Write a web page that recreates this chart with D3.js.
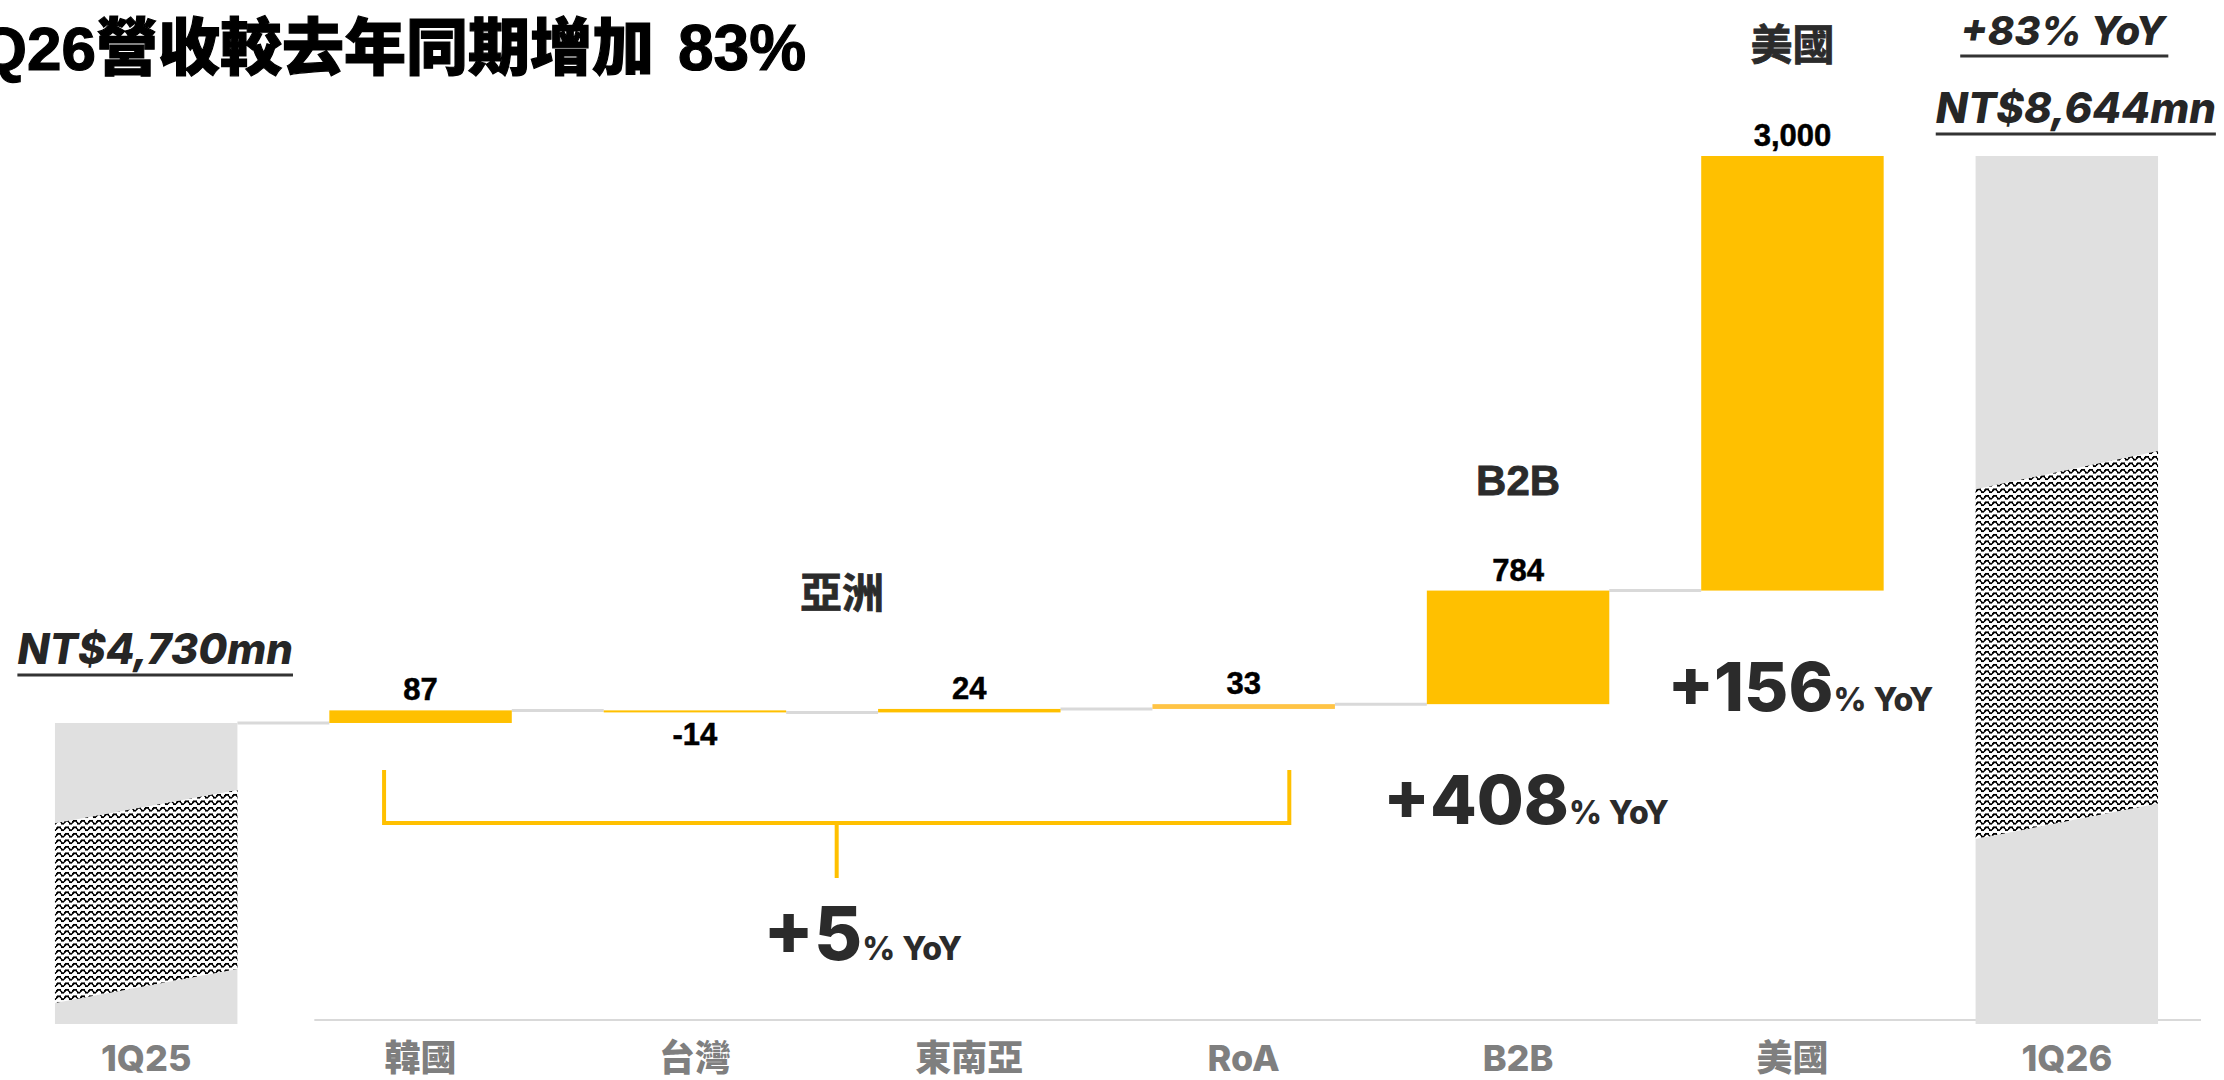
<!DOCTYPE html>
<html>
<head>
<meta charset="utf-8">
<script src="https://cdn.jsdelivr.net/npm/d3@7.9.0/dist/d3.min.js"></script>
<style>
  body { margin: 0; background: #fff; }
  svg { display: block; }
  .geo { font-family: Inter, "Noto Sans CJK TC", sans-serif; }
  .arial { font-family: "Liberation Sans", "Noto Sans CJK TC", sans-serif; }
</style>
</head>
<body>
<svg id="chart" width="2224" height="1080"></svg>
<script>
const CATEGORIES = ['1Q25', '韓國', '台灣', '東南亞', 'RoA', 'B2B', '美國', '1Q26'];
const KINDS      = ['total', 'delta', 'delta', 'delta', 'delta', 'delta', 'delta', 'total'];
const VALUES     = [4730, 87, -14, 24, 33, 784, 3000, 8644];
const VALUE_LABELS = ['', '87', '-14', '24', '33', '784', '3,000', ''];
const TOTAL_LABELS = { '1Q25': ['NT$4,730mn'], '1Q26': ['+83% YoY', 'NT$8,644mn'] };
const GROUPS = [
  { text: '亞洲', from: '韓國', to: 'RoA' },
  { text: 'B2B',  from: 'B2B',  to: 'B2B' },
  { text: '美國', from: '美國', to: '美國' }
];
const YOY = [
  { big: '+5',   small: '% YoY', group: '亞洲' },
  { big: '+408', small: '% YoY', group: 'B2B' },
  { big: '+156', small: '% YoY', group: '美國' }
];
const TITLE_PRE = '1Q26';
const TITLE_MAIN = '營收較去年同期增加';
const TITLE_TAIL = '83%';
const AXIS_FLOOR = 2652;   // axis is broken, bars start here

const svg = d3.select('#chart');

const x = d3.scaleBand()
  .domain(CATEGORIES)
  .range([9, 2204])
  .paddingInner(0.335)
  .paddingOuter(0.1675);
const bw = x.bandwidth();
const cx = c => x(c) + bw / 2;

const y = d3.scaleLinear()
  .domain([AXIS_FLOOR, d3.max(VALUES)])
  .range([1024, 156]);

// running totals
let run = 0;
const rows = CATEGORIES.map((c, i) => {
  const v = VALUES[i];
  if (KINDS[i] === 'total') {
    run = v;
    return { c, kind: 'total', v, lo: AXIS_FLOOR, hi: v, end: v };
  }
  const start = run;
  run += v;
  return { c, kind: 'delta', v, lo: Math.min(start, run), hi: Math.max(start, run), end: run, label: VALUE_LABELS[i] };
});
const byCat = new Map(rows.map(d => [d.c, d]));

// zigzag pattern for the axis break
const defs = svg.append('defs');
const pat = defs.append('pattern')
  .attr('id', 'zigzag')
  .attr('patternUnits', 'userSpaceOnUse')
  .attr('width', 8).attr('height', 6.5);
pat.append('rect').attr('width', 8).attr('height', 6.5).attr('fill', '#fff');
pat.append('path')
  .attr('d', 'M-1,4.6 L2,1.6 L4,1.6 L6,4.6 L9,4.6')
  .attr('fill', 'none').attr('stroke', '#000').attr('stroke-width', 1.7)
  .attr('shape-rendering', 'crispEdges');

// axis line + category labels
svg.append('line')
  .attr('x1', x('韓國') - 15).attr('x2', 2201)
  .attr('y1', 1020).attr('y2', 1020)
  .attr('stroke', '#d9d9d9').attr('stroke-width', 2);

const xAxis = svg.append('g')
  .attr('transform', 'translate(0,1020)')
  .call(d3.axisBottom(x).tickSize(0).tickPadding(25));
xAxis.select('.domain').remove();
xAxis.selectAll('text')
  .attr('font-size', 36)
  .attr('font-weight', 800)
  .attr('font-family', 'Inter, "Noto Sans CJK TC", sans-serif')
  .attr('fill', '#7f7f7f');

// connectors
const links = rows.slice(0, -1)
  .map((d, i) => ({ from: d, to: rows[i + 1] }))
  .filter(l => l.to.kind !== 'total');
svg.append('g').selectAll('line')
  .data(links).join('line')
  .attr('x1', l => x(l.from.c) + bw).attr('x2', l => x(l.to.c))
  .attr('y1', l => y(l.from.end)).attr('y2', l => y(l.from.end))
  .attr('stroke', '#d9d9d9').attr('stroke-width', 3);

// bars
svg.append('g').selectAll('rect')
  .data(rows).join('rect')
  .attr('x', d => x(d.c))
  .attr('width', bw)
  .attr('y', d => y(d.hi))
  .attr('height', d => Math.max(2, y(d.lo) - y(d.hi)))
  .attr('fill', d => d.kind === 'total' ? '#e0e0e0' : (d.c === 'RoA' ? '#ffc445' : '#ffc000'));

// slanted break bands on the total bars (fractions of bar height: TL, TR, BL, BR)
const BREAK_SHAPE = { '1Q25': [0.333, 0.223, 0.93, 0.817], '1Q26': [0.384, 0.34, 0.787, 0.746] };
svg.append('g').selectAll('path')
  .data(rows.filter(d => d.kind === 'total')).join('path')
  .attr('fill', 'url(#zigzag)')
  .attr('d', d => {
    const [tl, tr, bl, br] = BREAK_SHAPE[d.c];
    const top = y(d.hi), h = y(d.lo) - y(d.hi);
    const x0 = x(d.c), x1 = x(d.c) + bw;
    return `M${x0},${top + tl * h}L${x1},${top + tr * h}L${x1},${top + br * h}L${x0},${top + bl * h}Z`;
  });

// value labels
svg.append('g').attr('class', 'arial').selectAll('text')
  .data(rows.filter(d => d.kind === 'delta')).join('text')
  .attr('x', d => cx(d.c))
  .attr('y', d => d.v >= 0 ? y(d.hi) - 10 : y(d.lo) + 33)
  .attr('text-anchor', 'middle')
  .attr('font-size', 31)
  .attr('font-weight', 700)
  .attr('fill', '#000')
  .attr('stroke', '#000')
  .attr('stroke-width', 0.5)
  .text(d => d.label);

// underlined totals
function underlined(text, xc, base, size) {
  const t = svg.append('text')
    .attr('class', 'geo')
    .attr('x', xc).attr('y', base)
    .attr('text-anchor', 'middle')
    .attr('font-size', size)
    .attr('font-weight', 800)
    .attr('font-style', 'italic')
    .attr('fill', '#262626')
    .text(text);
  const b = t.node().getBBox();
  svg.append('line')
    .attr('x1', b.x).attr('x2', b.x + b.width)
    .attr('y1', base + 11).attr('y2', base + 11)
    .attr('stroke', '#333').attr('stroke-width', 3);
}
const first = byCat.get('1Q25'), last = byCat.get('1Q26');
underlined(TOTAL_LABELS['1Q25'][0], cx('1Q25') + 9, y(first.hi) - 59, 42);
underlined(TOTAL_LABELS['1Q26'][0], cx('1Q26') - 4, y(last.hi) - 111, 40);
underlined(TOTAL_LABELS['1Q26'][1], cx('1Q26') + 9, y(last.hi) - 33, 42);

// group headings
const groupPos = new Map();
GROUPS.forEach(g => {
  const i0 = CATEGORIES.indexOf(g.from), i1 = CATEGORIES.indexOf(g.to);
  const members = rows.filter((d, i) => i >= i0 && i <= i1);
  const xc = (cx(g.from) + cx(g.to)) / 2;
  const top = d3.min(members, d => y(d.hi));
  const bottom = d3.max(members, d => y(d.lo));
  groupPos.set(g.text, { xc, top, bottom, from: g.from, to: g.to });
  svg.append('text')
    .attr('class', 'arial')
    .attr('x', xc + (g.from === g.to ? 0 : 10))
    .attr('y', top - 111)
    .attr('dy', '0.36em')
    .attr('text-anchor', 'middle')
    .attr('font-size', 42)
    .attr('font-weight', 700)
    .attr('fill', '#2b2b2b')
    .attr('stroke', '#2b2b2b')
    .attr('stroke-width', 0.8)
    .text(g.text);
});

// bracket under the Asia group
const asia = groupPos.get('亞洲');
const bL = x(asia.from) + bw * 0.3, bR = x(asia.to) + bw * 0.75;
const bTop = y(VALUES[0]) + 47, bBot = bTop + 53, stemX = (bL + bR) / 2;
svg.append('path')
  .attr('d', `M${bL},${bTop}V${bBot}H${bR}V${bTop}M${stemX},${bBot}V${bBot + 55}`)
  .attr('fill', 'none').attr('stroke', '#ffc000').attr('stroke-width', 4);

// YoY annotations
YOY.forEach(a => {
  const g = groupPos.get(a.group);
  let xc, base, big;
  if (g.from !== g.to) { xc = stemX + 26; base = bBot + 137; big = 74; }
  else { xc = g.xc + 8; base = g.bottom + 120; big = 68; }
  const t = svg.append('text')
    .attr('class', 'geo')
    .attr('x', xc).attr('y', base)
    .attr('text-anchor', 'middle')
    .attr('fill', '#2b2b2b')
    .attr('font-weight', 800);
  t.append('tspan').attr('font-size', big).text(a.big);
  t.append('tspan').attr('font-size', 32).text(a.small);
});

// title (start is cut off at the left edge, as in the slide)
const title = svg.append('text')
  .attr('class', 'arial')
  .attr('y', 70)
  .attr('font-size', 62)
  .attr('font-weight', 900)
  .attr('fill', '#000')
  .attr('stroke', '#000')
  .attr('stroke-width', 1.2);
const pre = title.append('tspan').text(TITLE_PRE);
title.append('tspan').text(TITLE_MAIN);
title.append('tspan').attr('dx', 24).attr('font-size', 64).text(TITLE_TAIL);
title.attr('x', 96 - pre.node().getComputedTextLength());
</script>
</body>
</html>
